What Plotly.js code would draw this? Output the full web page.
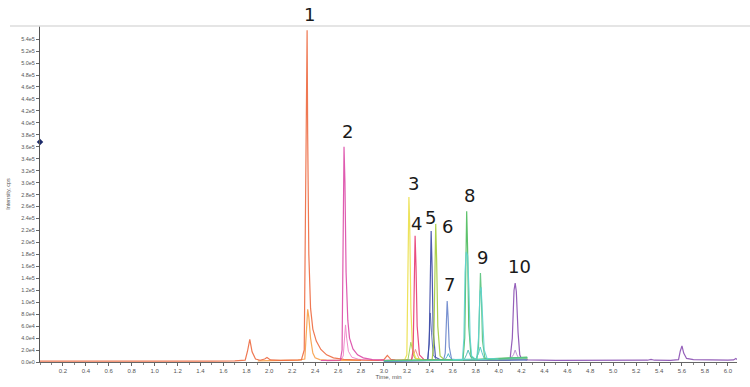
<!DOCTYPE html>
<html>
<head>
<meta charset="utf-8">
<script src="https://cdn.plot.ly/plotly-3.0.1.min.js"></script>
<style>html,body{margin:0;padding:0;background:#fff}#chart{width:750px;height:387px}</style>
</head>
<body>
<div id="chart"></div>
<script>
// ---- data (time in min, intensity in cps) ----
const t_p1 = [0, 0.3, 0.6, 0.9, 1.2, 1.5, 1.7, 1.79, 1.81, 1.83, 1.85, 1.88, 1.92, 1.96, 1.98, 2.01, 2.1, 2.2, 2.28, 2.305, 2.315, 2.325, 2.33, 2.335, 2.345, 2.36, 2.38, 2.41, 2.45, 2.5, 2.56, 2.65, 2.8, 2.95, 3.0, 3.03, 3.06, 3.1, 3.2];
const y_p1 = [1500, 1300, 1700, 1400, 1800, 1600, 2000, 3000, 18000, 38000, 17000, 5000, 3000, 5000, 7500, 3500, 2800, 3200, 3500, 20000, 250000, 520000, 555000, 380000, 180000, 90000, 55000, 35000, 21000, 12000, 7000, 4500, 3000, 2800, 4000, 11000, 4500, 3000, 2800];
const t_p1b = [1.9, 2.1, 2.25, 2.31, 2.325, 2.335, 2.345, 2.36, 2.38, 2.4, 2.44, 2.5, 2.6, 2.8];
const y_p1b = [2000, 2600, 3000, 5000, 45000, 88000, 75000, 40000, 15000, 7000, 4000, 3000, 2600, 2500];
const t_p2 = [2.45, 2.55, 2.62, 2.635, 2.645, 2.652, 2.66, 2.67, 2.685, 2.7, 2.73, 2.77, 2.82, 2.9, 3.0, 3.1];
const y_p2 = [2500, 2600, 3000, 20000, 200000, 360000, 300000, 150000, 70000, 40000, 22000, 12000, 7000, 4000, 3000, 2800];
const t_p2b = [2.5, 2.62, 2.645, 2.655, 2.665, 2.675, 2.69, 2.72, 2.78, 2.9, 3.0];
const y_p2b = [2000, 2500, 10000, 45000, 62000, 40000, 18000, 8000, 4500, 3000, 2800];
const t_p3 = [3.0, 3.1, 3.18, 3.2, 3.21, 3.218, 3.225, 3.235, 3.25, 3.28, 3.35, 3.5, 3.8, 4.0, 4.25];
const y_p3 = [2000, 2200, 3000, 12000, 150000, 276000, 230000, 90000, 20000, 6000, 3000, 3000, 3500, 4000, 5000];
const t_p3b = [3.0, 3.15, 3.21, 3.225, 3.235, 3.25, 3.27, 3.35, 3.6, 3.9, 4.25];
const y_p3b = [2500, 2600, 4000, 25000, 33000, 20000, 6000, 3500, 3500, 4500, 6000];
const t_p4 = [3.0, 3.15, 3.24, 3.255, 3.265, 3.272, 3.28, 3.29, 3.31, 3.35, 3.5, 3.8, 4.25];
const y_p4 = [2500, 2500, 3000, 20000, 150000, 211000, 160000, 60000, 12000, 4000, 3000, 3500, 4500];
const t_p4b = [3.1, 3.24, 3.26, 3.275, 3.29, 3.31, 3.4];
const y_p4b = [2500, 3000, 12000, 21000, 13000, 4000, 3000];
const t_p5 = [3.0, 3.2, 3.38, 3.395, 3.405, 3.412, 3.42, 3.43, 3.45, 3.5, 3.7, 4.0, 4.25];
const y_p5 = [1500, 1800, 2500, 30000, 170000, 219000, 160000, 50000, 8000, 3000, 2500, 3000, 3500];
const t_p5b = [3.0, 3.3, 3.385, 3.395, 3.405, 3.415, 3.43, 3.46, 3.6, 3.9, 4.25];
const y_p5b = [2000, 2200, 3000, 40000, 82000, 50000, 12000, 3500, 3000, 3500, 4500];
const t_p6 = [3.0, 3.3, 3.42, 3.435, 3.445, 3.452, 3.46, 3.47, 3.49, 3.53, 3.7, 4.0, 4.25];
const y_p6 = [2500, 2600, 3000, 30000, 180000, 231000, 170000, 60000, 10000, 3500, 3000, 4000, 5000];
const t_p7 = [3.0, 3.3, 3.52, 3.535, 3.545, 3.552, 3.56, 3.57, 3.59, 3.65, 3.9, 4.25];
const y_p7 = [1800, 2000, 2500, 15000, 80000, 102000, 75000, 25000, 5000, 3000, 3500, 4000];
const t_p7b = [3.0, 3.4, 3.53, 3.55, 3.562, 3.575, 3.6, 3.7, 3.9, 4.1, 4.25];
const y_p7b = [2200, 2500, 3000, 9000, 14000, 8000, 3500, 3500, 5000, 6000, 7000];
const t_p8 = [3.0, 3.4, 3.69, 3.705, 3.715, 3.722, 3.73, 3.74, 3.76, 3.8, 4.0, 4.25];
const y_p8 = [2500, 3000, 3500, 40000, 200000, 252000, 190000, 60000, 9000, 4000, 6000, 8000];
const t_p8b = [3.0, 3.4, 3.685, 3.698, 3.708, 3.718, 3.73, 3.742, 3.752, 3.765, 3.8, 4.0, 4.25];
const y_p8b = [2000, 2500, 3000, 40000, 150000, 184000, 178000, 120000, 40000, 10000, 4000, 5000, 7000];
const t_p8c = [3.5, 3.7, 3.72, 3.735, 3.75, 3.77, 3.85];
const y_p8c = [3500, 4000, 12000, 20000, 12000, 4500, 4000];
const t_p9 = [3.0, 3.5, 3.81, 3.825, 3.835, 3.842, 3.85, 3.86, 3.88, 3.92, 4.1, 4.25];
const y_p9 = [2500, 3000, 4000, 25000, 120000, 149000, 110000, 35000, 7000, 4500, 6500, 7500];
const t_p9c = [3.6, 3.81, 3.825, 3.838, 3.848, 3.86, 3.875, 3.9, 4.0];
const y_p9c = [4000, 5000, 40000, 118000, 125000, 80000, 20000, 6000, 5000];
const t_p9b = [3.5, 3.8, 3.825, 3.84, 3.855, 3.875, 3.95, 4.25];
const y_p9b = [3500, 4500, 14000, 25000, 16000, 5500, 5000, 7000];
const t_p10 = [3.0, 3.5, 4.0, 4.1, 4.12, 4.135, 4.145, 4.155, 4.17, 4.185, 4.2, 4.25, 4.5, 4.8, 5.0, 5.3, 5.33, 5.36, 5.5, 5.57, 5.585, 5.6, 5.615, 5.64, 5.7, 5.8, 5.9, 6.0, 6.05, 6.07, 6.08];
const y_p10 = [2000, 2500, 3000, 4000, 40000, 120000, 132000, 118000, 50000, 12000, 5000, 3500, 2800, 3000, 2800, 3000, 4500, 3000, 2800, 4000, 18000, 27000, 15000, 6000, 4000, 3500, 3000, 3000, 3500, 6000, 4000];
const t_p10b = [3.9, 4.1, 4.13, 4.145, 4.16, 4.18, 4.25];
const y_p10b = [4500, 5000, 12000, 20000, 12000, 5000, 4500];

const xTickVals = [0.2,0.4,0.6,0.8,1.0,1.2,1.4,1.6,1.8,2.0,2.2,2.4,2.6,2.8,3.0,3.2,3.4,3.6,3.8,4.0,4.2,4.4,4.6,4.8,5.0,5.2,5.4,5.6,5.8,6.0];
const xTickText = ["0.2","0.4","0.6","0.8","1.0","1.2","1.4","1.6","1.8","2.0","2.2","2.4","2.6","2.8","3.0","3.2","3.4","3.6","3.8","4.0","4.2","4.4","4.6","4.8","5.0","5.2","5.4","5.6","5.8","6.0"];
const yTickVals = [0,20000,40000,60000,80000,100000,120000,140000,160000,180000,200000,220000,240000,260000,280000,300000,320000,340000,360000,380000,400000,420000,440000,460000,480000,500000,520000,540000];
const yTickText = ["0.0e0","2.0e4","4.0e4","6.0e4","8.0e4","1.0e5","1.2e5","1.4e5","1.6e5","1.8e5","2.0e5","2.2e5","2.4e5","2.6e5","2.8e5","3.0e5","3.2e5","3.4e5","3.6e5","3.8e5","4.0e5","4.2e5","4.4e5","4.6e5","4.8e5","5.0e5","5.2e5","5.4e5"];

const peakLabels = ["1","2","3","4","5","6","7","8","9","10"];
const labelX = [2.347, 2.679, 3.255, 3.281, 3.403, 3.551, 3.569, 3.743, 3.857, 4.180];
const labelY = [580000, 385000, 299000, 232000, 241000, 226000, 129000, 279000, 174000, 159000];

// ---- traces ----
function tr(x, y, color, w, op) {
  return {x: x, y: y, type: 'scatter', mode: 'lines', line: {color: color, width: w || 1}, opacity: op || 0.9, hoverinfo: 'skip', showlegend: false};
}
const data = [
  tr(t_p10, y_p10, '#8a4fb3', 1.2),
  tr(t_p10b, y_p10b, '#b88ad0', 1),
  tr(t_p9b, y_p9b, '#45c4c0', 1),
  tr(t_p8c, y_p8c, '#48b8b0', 1),
  tr(t_p7b, y_p7b, '#3db0c8', 1),
  tr(t_p5b, y_p5b, '#5868b8', 1),
  tr(t_p4b, y_p4b, '#f08a7a', 1),
  tr(t_p3b, y_p3b, '#98d050', 1),
  tr(t_p2b, y_p2b, '#f080c8', 1),
  tr(t_p1b, y_p1b, '#f8a048', 1.2),
  tr(t_p1, y_p1, '#ee6a40', 1.2),
  tr(t_p2, y_p2, '#dc4aa8', 1.2),
  tr(t_p3, y_p3, '#ece04a', 1.2),
  tr(t_p4, y_p4, '#e83a72', 1.2),
  tr(t_p5, y_p5, '#3c4aa8', 1.2),
  tr(t_p6, y_p6, '#a4cc3a', 1.2),
  tr(t_p7, y_p7, '#6a86cc', 1.2),
  tr(t_p8, y_p8, '#4cbc5c', 1.2),
  tr(t_p8b, y_p8b, '#5fd3d0', 1.2),
  tr(t_p9, y_p9, '#58c47c', 1.2),
  tr(t_p9c, y_p9c, '#5fd3d0', 1.1),
  {x: [0], y: [368000], type: 'scatter', mode: 'markers', marker: {symbol: 'diamond', size: 5, color: '#1c2a6a'}, cliponaxis: false, hoverinfo: 'skip', showlegend: false}
];

const annotations = peakLabels.map((s, i) => ({
  x: labelX[i], y: labelY[i], xref: 'x', yref: 'y', text: s, showarrow: false,
  font: {family: 'DejaVu Sans, sans-serif', size: 18, color: '#1a1a1a'},
  xanchor: 'center', yanchor: 'middle'
}));
// label 1 sits above the top of the axis range: place it in paper units
annotations[0].yref = 'paper';
annotations[0].y = 1.033;

const layout = {
  width: 750, height: 387,
  margin: {l: 40, r: 13, t: 26, b: 25, pad: 0},
  paper_bgcolor: '#ffffff', plot_bgcolor: '#ffffff',
  font: {family: 'Liberation Sans, Arial, sans-serif', size: 6, color: '#555'},
  xaxis: {
    range: [0, 6.08], tickmode: 'array', tickvals: xTickVals, ticktext: xTickText,
    showgrid: false, zeroline: false, showline: true, linecolor: '#666', linewidth: 1,
    ticks: 'outside', ticklen: 3, tickcolor: '#666', tickfont: {size: 6, color: '#555'},
    minor: {ticks: 'outside', tickmode: 'linear', tick0: 0, dtick: 0.1, ticklen: 2, tickcolor: '#888'},
    title: {text: 'Time, min', font: {size: 6, color: '#555'}, standoff: 1}
  },
  yaxis: {
    range: [0, 562000], tickmode: 'array', tickvals: yTickVals, ticktext: yTickText,
    showgrid: false, zeroline: false, showline: true, linecolor: '#555', linewidth: 1,
    ticks: 'outside', ticklen: 3, tickcolor: '#666', tickfont: {size: 5.5, color: '#555'},
    title: {text: 'Intensity, cps', font: {size: 5.5, color: '#555'}, standoff: 10}
  },
  shapes: [{type: 'line', xref: 'paper', yref: 'paper', x0: -0.043, x1: 1.02, y0: 1, y1: 1, line: {color: '#dcdcdc', width: 1.5}}],
  annotations: annotations
};

Plotly.newPlot('chart', data, layout, {staticPlot: true, displayModeBar: false});
</script>
</body>
</html>
